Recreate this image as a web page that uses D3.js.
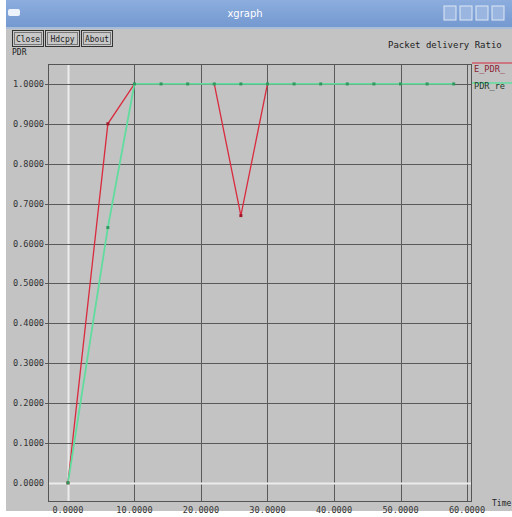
<!DOCTYPE html>
<html>
<head>
<meta charset="utf-8">
<script src="https://cdn.jsdelivr.net/npm/d3@7"></script>
<style>
  html, body { margin: 0; padding: 0; background: #ffffff; }
  svg { display: block; }
  text { font-family: "DejaVu Sans Mono", monospace; }
</style>
</head>
<body>
<script>
// Packet delivery ratio over simulation time
const times    = [0, 6, 10, 14, 18, 22, 26, 30, 34, 38, 42, 46, 50, 54, 58];
const ePdr     = [0, 0.9, 1, 1, 1, 1, 0.67, 1, 1, 1, 1, 1, 1, 1, 1];
const pdr      = [0, 0.64, 1, 1, 1, 1, 1, 1, 1, 1, 1, 1, 1, 1, 1];
const seriesNames = ["E_PDR_", "PDR_re"];
const xTicks = [0, 10, 20, 30, 40, 50, 60];
const yTicks = [0, 0.1, 0.2, 0.3, 0.4, 0.5, 0.6, 0.7, 0.8, 0.9, 1.0];

const W = 512, H = 517;
const svg = d3.select("body").append("svg").attr("width", W).attr("height", H);

// window body
svg.append("rect").attr("x", 6).attr("y", 0).attr("width", W - 6).attr("height", 511).attr("fill", "#c3c3c3");

// title bar
const grad = svg.append("defs").append("linearGradient").attr("id", "tb").attr("x1", 0).attr("y1", 0).attr("x2", 0).attr("y2", 1);
grad.append("stop").attr("offset", "0%").attr("stop-color", "#8cadde");
grad.append("stop").attr("offset", "100%").attr("stop-color", "#7398d0");
svg.append("rect").attr("x", 6).attr("y", 0).attr("width", W - 6).attr("height", 28).attr("fill", "url(#tb)");
svg.append("rect").attr("x", 6).attr("y", 27).attr("width", W - 6).attr("height", 2).attr("fill", "#a9bcd8");
svg.append("text").attr("x", 245).attr("y", 17).attr("text-anchor", "middle")
  .attr("fill", "#ffffff").style("font-family", "DejaVu Sans, sans-serif").style("font-size", "10px").text("xgraph");
// window menu icon
svg.append("rect").attr("x", 8).attr("y", 9).attr("width", 12).attr("height", 7).attr("rx", 2).attr("fill", "#eef3fb");
// window control buttons
[444, 460, 476, 492].forEach(a => {
  svg.append("rect").attr("x", a).attr("y", 6).attr("width", 12).attr("height", 14)
    .attr("fill", "#9ab6e0").attr("stroke", "#dde7f5").attr("stroke-width", 1);
});

// buttons
const buttons = [["Close", 12, 31], ["Hdcpy", 45, 34], ["About", 81, 31]];
buttons.forEach(([label, bx, w]) => {
  svg.append("rect").attr("x", bx + 0.5).attr("y", 30.5).attr("width", w).attr("height", 16)
    .attr("fill", "#c8c8c8").attr("stroke", "#333").attr("stroke-width", 1);
  svg.append("rect").attr("x", bx + 2.5).attr("y", 32.5).attr("width", w - 4).attr("height", 12)
    .attr("fill", "none").attr("stroke", "#777").attr("stroke-width", 1);
  svg.append("text").attr("x", bx + w / 2 + 0.5).attr("y", 42).attr("text-anchor", "middle")
    .attr("fill", "#222").style("font-size", "8px").text(label);
});

// titles
svg.append("text").attr("x", 388).attr("y", 48).attr("fill", "#222").style("font-size", "9px").text("Packet delivery Ratio");
svg.append("text").attr("x", 12).attr("y", 55).attr("fill", "#222").style("font-size", "8px").text("PDR");
svg.append("text").attr("x", 492).attr("y", 506).attr("fill", "#222").style("font-size", "8px").text("Time");

// scales
const x = d3.scaleLinear().domain([-3, 60.75]).range([48, 472]);
const y = d3.scaleLinear().domain([-0.048, 1.05]).range([502, 64]);

// grid
const grid = svg.append("g");
xTicks.forEach(t => {
  grid.append("line").attr("x1", Math.round(x(t)) + 0.5).attr("x2", Math.round(x(t)) + 0.5)
    .attr("y1", 64).attr("y2", 502)
    .attr("stroke", t === 0 ? "#ececec" : "#5a5a5a").attr("stroke-width", t === 0 ? 2 : 1);
});
yTicks.forEach(t => {
  grid.append("line").attr("x1", t === 0 ? 48 : 45).attr("x2", 472)
    .attr("y1", Math.round(y(t)) + 0.5).attr("y2", Math.round(y(t)) + 0.5)
    .attr("stroke", t === 0 ? "#ececec" : "#5a5a5a").attr("stroke-width", t === 0 ? 2 : 1);
});
// frame
svg.append("rect").attr("x", 48.5).attr("y", 64.5).attr("width", 423).attr("height", 437)
  .attr("fill", "none").attr("stroke", "#555").attr("stroke-width", 1);

// tick labels
yTicks.forEach(t => {
  svg.append("text").attr("x", 44).attr("y", Math.round(y(t)) + 3).attr("text-anchor", "end")
    .attr("fill", "#333").style("font-size", "8.6px").text(d3.format(".4f")(t));
});
xTicks.forEach(t => {
  svg.append("text").attr("x", x(t)).attr("y", 513).attr("text-anchor", "middle")
    .attr("fill", "#333").style("font-size", "8.6px").text(d3.format(".4f")(t));
});

// series
const red = "#d92a3e", green = "#5fdc9e";
const line = d3.line().x(d => x(d[0])).y(d => y(d[1]));
const redPts = times.map((t, i) => [t, ePdr[i]]);
const greenPts = times.map((t, i) => [t, pdr[i]]);

svg.append("path").attr("d", line(redPts)).attr("fill", "none").attr("stroke", red).attr("stroke-width", 1.3);
svg.append("path").attr("d", line(greenPts)).attr("fill", "none").attr("stroke", green).attr("stroke-width", 1.8);

svg.selectAll(".rm").data(redPts.filter(d => d[1] < 1)).enter().append("rect")
  .attr("x", d => x(d[0]) - 1.5).attr("y", d => y(d[1]) - 1.5).attr("width", 3).attr("height", 3).attr("fill", "#a01828");
svg.selectAll(".gm").data(greenPts).enter().append("rect")
  .attr("x", d => x(d[0]) - 1.5).attr("y", d => y(d[1]) - 1.5).attr("width", 3).attr("height", 3).attr("fill", "#2f9a5e");

// legend
svg.append("line").attr("x1", 472).attr("x2", 512).attr("y1", 63).attr("y2", 63).attr("stroke", red).attr("stroke-width", 1.2);
svg.append("text").attr("x", 474).attr("y", 72).attr("fill", "#8a2030").style("font-size", "8.6px").text(seriesNames[0]);
svg.append("line").attr("x1", 472).attr("x2", 512).attr("y1", 83).attr("y2", 83).attr("stroke", green).attr("stroke-width", 1.6);
svg.append("text").attr("x", 474).attr("y", 89).attr("fill", "#1d3a2a").style("font-size", "8.6px").text(seriesNames[1]);
</script>
</body>
</html>
